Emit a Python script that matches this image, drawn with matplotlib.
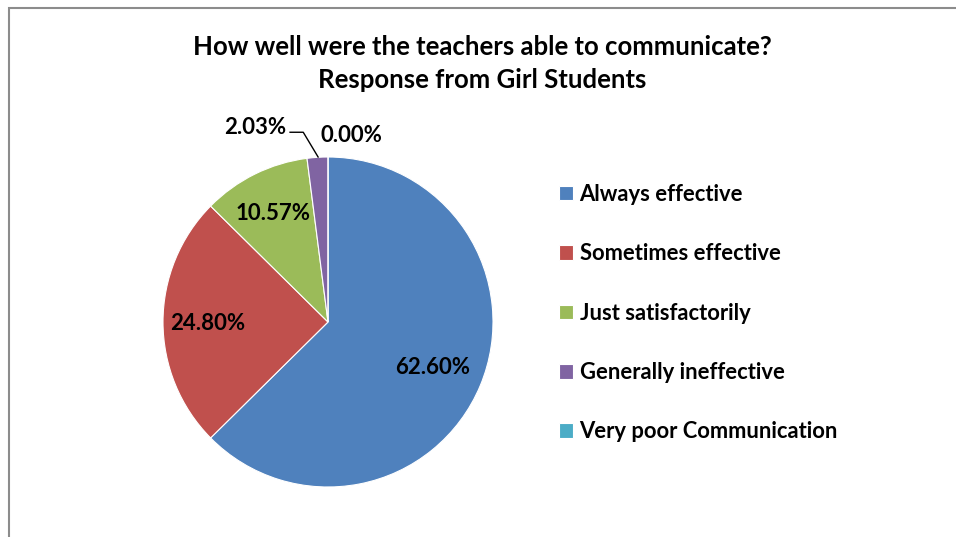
import matplotlib
matplotlib.use("Agg")
import matplotlib.pyplot as plt
import numpy as np
from matplotlib.patches import Rectangle

categories = ["Always effective", "Sometimes effective", "Just satisfactorily",
              "Generally ineffective", "Very poor Communication"]
values = [62.60, 24.80, 10.57, 2.03, 0.00]
colors = ["#4F81BD", "#C0504D", "#9BBB59", "#8064A2", "#4BACC6"]
title = "How well were the teachers able to communicate?\nResponse from Girl Students"

W, H = 956, 537
fig = plt.figure(figsize=(W / 100, H / 100), dpi=100)
fig.patch.set_facecolor("white")

FONT = "Lato"
LBL = 16

# frame border
fig.patches.append(Rectangle((8.5 / W, -0.1), 1.2, (H - 7.5) / H + 0.1,
                             transform=fig.transFigure, fill=False,
                             edgecolor="#8C8C8C", linewidth=1.5))

cx, cy, r = 328, 322, 165
ax = fig.add_axes([(cx - r) / W, (H - cy - r) / H, 2 * r / W, 2 * r / H])
wedges, _ = ax.pie(values, colors=colors, startangle=90, counterclock=False,
                   radius=1, wedgeprops=dict(edgecolor="white", linewidth=0.8))
ax.set_xlim(-1, 1)
ax.set_ylim(-1, 1)
ax.set_aspect("equal")
ax.axis("off")

# data labels
total = sum(values)
cum = 0
mids = []
for v in values:
    mid = 90 - (cum + v / 2) / total * 360
    mids.append(np.deg2rad(mid))
    cum += v

lab_r = [0.69, 0.73, 0.745]
for i in range(3):
    ax.text(lab_r[i] * np.cos(mids[i]), lab_r[i] * np.sin(mids[i]) - 0.012,
            f"{values[i]:.2f}%", ha="center", va="center",
            fontsize=LBL, fontweight="bold", family=FONT, color="black")

# small slices with callouts
ax.text(-0.44, 1.18, f"{values[3]:.2f}%", ha="center", va="center",
        fontsize=LBL, fontweight="bold", family=FONT, clip_on=False)
ax.plot([-0.23, -0.15, -0.06], [1.15, 1.15, 1.0], color="black", lw=1.0,
        clip_on=False)
ax.text(0.14, 1.13, f"{values[4]:.2f}%", ha="center", va="center",
        fontsize=LBL, fontweight="bold", family=FONT, clip_on=False)

fig.text(482 / W, 1 - 63.5 / H, title, ha="center", va="center",
         fontsize=18.5, fontweight="bold", family=FONT, linespacing=1.45)

leg = fig.legend(wedges, categories, loc="upper left",
                 bbox_to_anchor=(539 / W, 1 - 164 / H),
                 frameon=False, handlelength=0.65, handleheight=0.65,
                 handletextpad=0.3, labelspacing=1.75,
                 prop=dict(family=FONT, weight="bold", size=15.8))

fig.savefig("out.png", dpi=100)
